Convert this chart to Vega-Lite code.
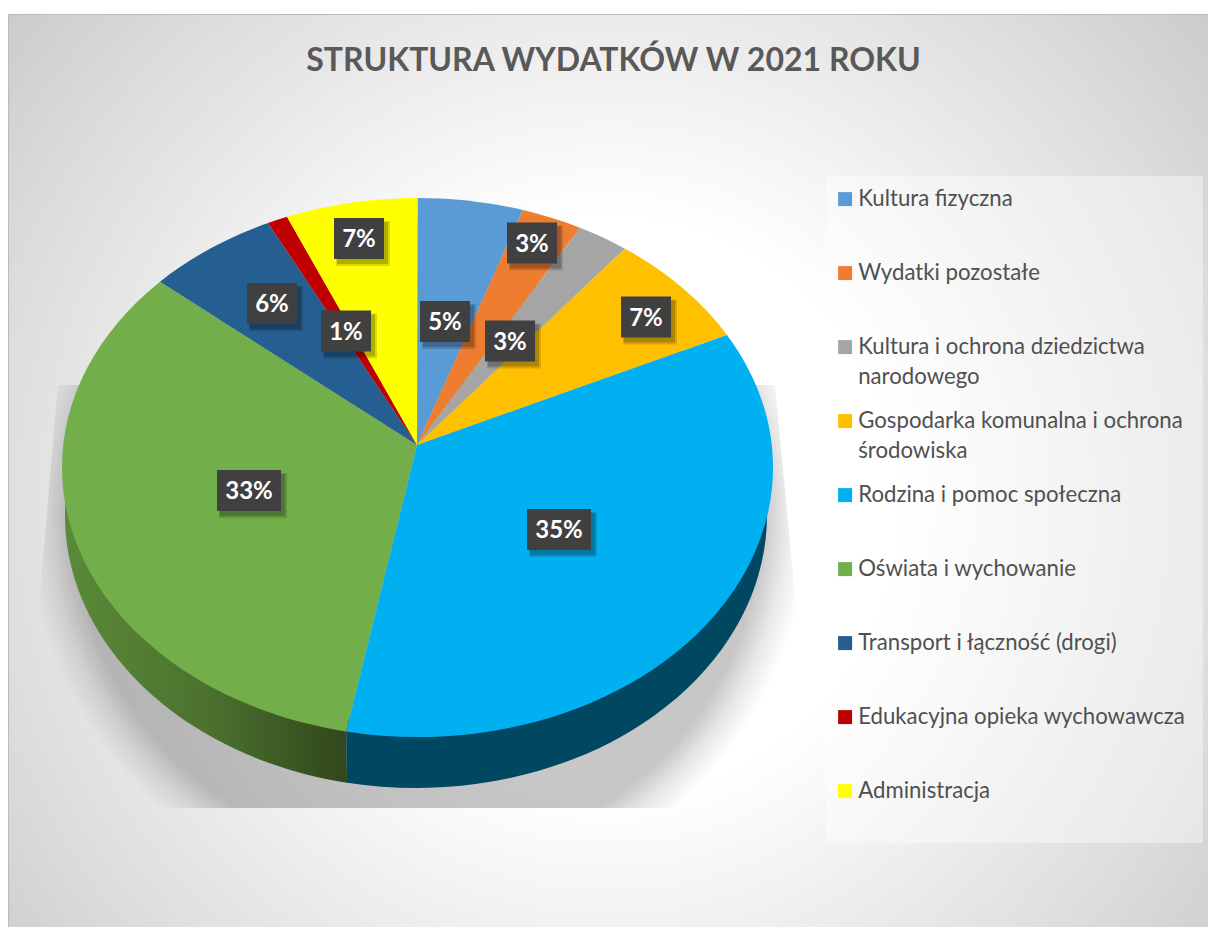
{
"$schema":"https://vega.github.io/schema/vega-lite/v6.json",
"width":1200,"height":913,
"autosize":{"type":"none"},
"padding":{"left":8,"top":14,"right":0,"bottom":0},
"background":"white",
"config":{"style":{"guide-label":{"lineHeight":29.5}}},
"view":{"stroke":"#bbbbbb","strokeWidth":1,"fill":{"gradient":"radial","x1":0.5,"y1":0.53,"r1":0,"x2":0.5,"y2":0.53,"r2":0.75,"stops":[{"offset":0,"color":"#ffffff"},{"offset":0.32,"color":"#ffffff"},{"offset":0.7,"color":"#dcdcdc"},{"offset":1,"color":"#bebebe"}]}},
"title":{"text":"STRUKTURA WYDATKÓW W 2021 ROKU","anchor":"middle","frame":"group","offset":-45,"dx":5.5,"dy":34,"baseline":"middle","font":"Lato","fontSize":32,"fontWeight":"bold","color":"#595959"},
"data":{"values":[
{"kategoria":"Kultura fizyczna","wartosc":0.05},
{"kategoria":"Wydatki pozostałe","wartosc":0.03},
{"kategoria":"Kultura i ochrona dziedzictwa narodowego","wartosc":0.03},
{"kategoria":"Gospodarka komunalna i ochrona środowiska","wartosc":0.07},
{"kategoria":"Rodzina i pomoc społeczna","wartosc":0.35},
{"kategoria":"Oświata i wychowanie","wartosc":0.33},
{"kategoria":"Transport i łączność (drogi)","wartosc":0.06},
{"kategoria":"Edukacyjna opieka wychowawcza","wartosc":0.01},
{"kategoria":"Administracja","wartosc":0.07}
]},
"transform":[
{"calculate":"{'Kultura fizyczna':28,'Wydatki pozostałe':115,'Kultura i ochrona dziedzictwa narodowego':93,'Gospodarka komunalna i ochrona środowiska':229,'Rodzina i pomoc społeczna':142,'Oświata i wychowanie':-168,'Transport i łączność (drogi)':-145,'Edukacyjna opieka wychowawcza':-71,'Administracja':-58}[datum.kategoria]","as":"lx"},
{"calculate":"{'Kultura fizyczna':-123.5,'Wydatki pozostałe':-202,'Kultura i ochrona dziedzictwa narodowego':-104,'Gospodarka komunalna i ochrona środowiska':-128,'Rodzina i pomoc społeczna':84.5,'Oświata i wychowanie':45.5,'Transport i łączność (drogi)':-141.5,'Edukacyjna opieka wychowawcza':-114,'Administracja':-206.5}[datum.kategoria]","as":"ly"},
{"calculate":"datum.wartosc>=0.1?32:25","as":"hw"},
{"calculate":"datum.lx-datum.hw","as":"x0"},
{"calculate":"datum.lx+datum.hw","as":"x1"},
{"calculate":"datum.ly-20.5","as":"y0"},
{"calculate":"datum.ly+20.5","as":"y1"},
{"calculate":"'k_'+datum.kategoria","as":"klin"}
],
"layer":[
{"transform":[{"filter":"datum.kategoria==='Kultura fizyczna'"}],
 "mark":{"type":"rect","color":"#ffffff","opacity":0.4},
 "encoding":{"x":{"datum":409,"type":"quantitative","scale":{"domain":[-409,791],"nice":false,"zero":false},"axis":null},"x2":{"datum":786},"y":{"datum":-269,"type":"quantitative","scale":{"domain":[482,-431],"nice":false,"zero":false},"axis":null},"y2":{"datum":398}}},
{"transform":[{"filter":"datum.kategoria==='Kultura fizyczna'"}],
 "mark":{"type":"point","filled":true,"opacity":1,"strokeWidth":0,"fill":{"gradient":"radial","x1":0.5,"y1":0.5,"r1":0,"x2":0.5,"y2":0.5,"r2":0.515,"stops":[{"offset":0,"color":"rgba(0,0,0,0.22)"},{"offset":0.88,"color":"rgba(0,0,0,0.22)"},{"offset":0.94,"color":"rgba(0,0,0,0.09)"},{"offset":1,"color":"rgba(0,0,0,0)"}]}},
 "encoding":{"x":{"datum":0,"type":"quantitative","axis":null},"y":{"datum":0,"type":"quantitative","axis":null},"size":{"value":4},
 "shape":{"value":"M-359,-60L-338,-60L0,-223L338,-60L358,-60L380,172L380,363L-379,363L-379,172Z"}}},
{"transform":[{"filter":"datum.kategoria==='Oświata i wychowanie'"}],
 "mark":{"type":"point","filled":true,"opacity":1,"strokeWidth":0,"fill":{"gradient":"linear","x1":0,"y1":0,"x2":1,"y2":0,"stops":[{"offset":0,"color":"#5a8a38"},{"offset":0.5,"color":"#4c722e"},{"offset":1,"color":"#31471c"}]}},
 "encoding":{"x":{"datum":0,"type":"quantitative","axis":null},"y":{"datum":0,"type":"quantitative","axis":null},"size":{"value":4},
 "shape":{"value":"M-71,275L-337,25L-349.1,35A351,273,0,0,0,-70,337.7Z"}}},
{"transform":[{"filter":"datum.kategoria==='Rodzina i pomoc społeczna'"}],
 "mark":{"type":"point","filled":true,"opacity":1,"strokeWidth":0,"fill":"#004861"},
 "encoding":{"x":{"datum":0,"type":"quantitative","axis":null},"y":{"datum":0,"type":"quantitative","axis":null},"size":{"value":4},
 "shape":{"value":"M-71,275L-70,337.7A351,273,0,0,0,347.1,35L285,30Z"}}},
{"mark":{"type":"point","filled":true,"opacity":1,"strokeWidth":0},
 "encoding":{"x":{"datum":0,"type":"quantitative","axis":null},"y":{"datum":0,"type":"quantitative","axis":null},"size":{"value":4},
 "color":{"field":"kategoria","type":"nominal","sort":null,
  "scale":{"domain":["Kultura fizyczna","Wydatki pozostałe","Kultura i ochrona dziedzictwa narodowego","Gospodarka komunalna i ochrona środowiska","Rodzina i pomoc społeczna","Oświata i wychowanie","Transport i łączność (drogi)","Edukacyjna opieka wychowawcza","Administracja"],"range":["#5B9BD5","#ED7D31","#A5A5A5","#FFC000","#00B0F0","#72AE4A","#255E91","#C00000","#FFFF00"]},
  "legend":{"title":null,"orient":"none","legendX":826,"legendY":174,"symbolType":"square","symbolSize":196,"symbolStrokeWidth":0,"symbolOpacity":1,"labelFont":"Lato","labelFontSize":22.2,"labelColor":"#505050","labelLimit":400,"labelOffset":2,"rowPadding":22,"padding":0,"gridAlign":"all",
  "labelExpr":"datum.label==='Kultura i ochrona dziedzictwa narodowego'?['Kultura i ochrona dziedzictwa','narodowego']:datum.label==='Gospodarka komunalna i ochrona środowiska'?['Gospodarka komunalna i ochrona','środowiska']:datum.label",
  "encoding":{"symbols":{"update":{"shape":{"value":"square"},"size":{"value":196},"opacity":{"value":1}}}}}},
 "shape":{"field":"klin","type":"nominal","legend":null,
  "scale":{"domain":["k_Kultura fizyczna","k_Wydatki pozostałe","k_Kultura i ochrona dziedzictwa narodowego","k_Gospodarka komunalna i ochrona środowiska","k_Rodzina i pomoc społeczna","k_Oświata i wychowanie","k_Transport i łączność (drogi)","k_Edukacyjna opieka wychowawcza","k_Administracja"],
  "range":["M0,0L0.5,-247A355.5,269.5,0,0,1,106,-234.9Z","M0,0L106,-234.9A355.5,269.5,0,0,1,163,-217.2Z","M0,0L163,-217.2A355.5,269.5,0,0,1,208,-196.3Z","M0,0L208,-196.3A355.5,269.5,0,0,1,310,-110.1Z","M0,0L310,-110.1A355.5,269.5,0,0,1,-71,286.5Z","M0,0L-71,286.5A355.5,269.5,0,0,1,-257,-163.3Z","M0,0L-257,-163.3A355.5,269.5,0,0,1,-149,-222Z","M0,0L-149,-222A355.5,269.5,0,0,1,-130,-228.2Z","M0,0L-130,-228.2A355.5,269.5,0,0,1,0.5,-247Z"]}}}},
{"transform":[{"calculate":"datum.x0+2","as":"sx0"},{"calculate":"datum.x1+6","as":"sx1"},{"calculate":"datum.y0+3","as":"sy0"},{"calculate":"datum.y1+7","as":"sy1"}],
 "mark":{"type":"rect","color":"#000000","opacity":0.14},
 "encoding":{"x":{"field":"sx0","type":"quantitative","axis":null},"x2":{"field":"sx1"},"y":{"field":"sy0","type":"quantitative","axis":null},"y2":{"field":"sy1"}}},
{"transform":[{"calculate":"datum.x0+3","as":"sx0"},{"calculate":"datum.x1+4","as":"sx1"},{"calculate":"datum.y0+4","as":"sy0"},{"calculate":"datum.y1+5","as":"sy1"}],
 "mark":{"type":"rect","color":"#000000","opacity":0.2},
 "encoding":{"x":{"field":"sx0","type":"quantitative","axis":null},"x2":{"field":"sx1"},"y":{"field":"sy0","type":"quantitative","axis":null},"y2":{"field":"sy1"}}},
{"mark":{"type":"rect","color":"#404040","opacity":1},
 "encoding":{"x":{"field":"x0","type":"quantitative","axis":null},"x2":{"field":"x1"},"y":{"field":"y0","type":"quantitative","axis":null},"y2":{"field":"y1"}}},
{"mark":{"type":"text","font":"Lato","fontSize":24,"fontWeight":"bold","color":"#ffffff","align":"center","baseline":"middle","dy":1.5},
 "encoding":{"x":{"field":"lx","type":"quantitative","axis":null},"y":{"field":"ly","type":"quantitative","axis":null},"text":{"field":"wartosc","type":"quantitative","format":".0%"}}}
]
}
